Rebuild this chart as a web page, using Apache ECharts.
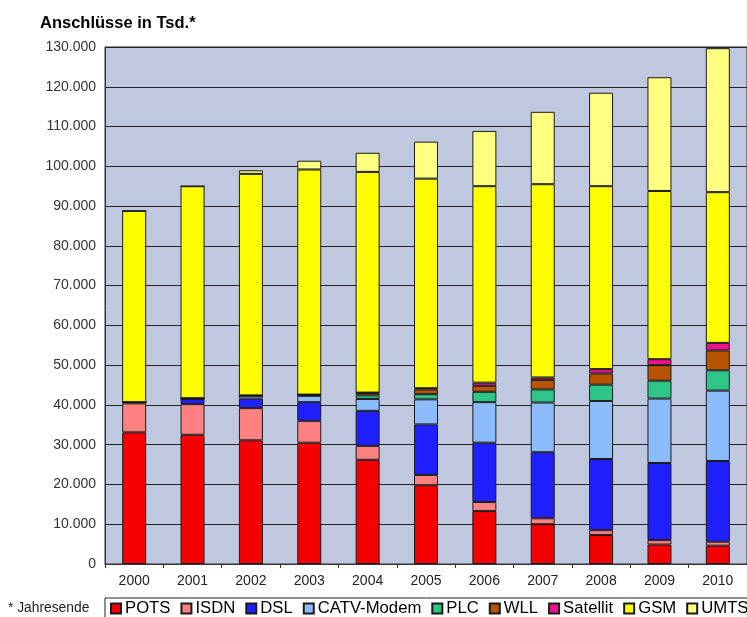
<!DOCTYPE html>
<html>
<head>
<meta charset="utf-8">
<script src="https://cdn.jsdelivr.net/npm/echarts@6/dist/echarts.min.js"></script>
<style>
html,body{margin:0;padding:0;background:#fff;}
#c{width:747px;height:617px;}
</style>
</head>
<body>
<div id="c"></div>
<script>
// Values in thousands (Tsd.)
var years = ['2000','2001','2002','2003','2004','2005','2006','2007','2008','2009','2010'];
var pots     = [33100, 32500, 31100, 30500, 26200, 19800, 13300, 10000, 7300, 4900, 4600];
var isdn     = [7300, 7700, 8100, 5500, 3500, 2600, 2300, 1500, 1200, 1100, 1000];
var dsl      = [300, 1300, 2400, 4700, 8800, 12700, 14900, 16600, 17900, 19400, 20300];
var catv     = [0, 100, 700, 1600, 3000, 6300, 10200, 12500, 14600, 16200, 17700];
var plc      = [0, 0, 0, 100, 900, 1300, 2600, 3300, 4100, 4500, 5100];
var wll      = [0, 100, 100, 200, 600, 1200, 1500, 2400, 2800, 3900, 5000];
var satellit = [0, 0, 0, 0, 100, 300, 800, 600, 1100, 1500, 1900];
var gsm      = [48100, 53300, 55700, 56600, 55500, 52700, 49400, 48600, 46000, 42300, 37900];
var umts     = [0, 0, 900, 2200, 4800, 9300, 13900, 18200, 23500, 28600, 36200];

var seriesNames = ['POTS','ISDN','DSL','CATV-Modem','PLC','WLL','Satellit','GSM','UMTS'];
var seriesData = [pots, isdn, dsl, catv, plc, wll, satellit, gsm, umts];
var seriesColors = ['#f50000','#ff8080','#2020ff','#8cbcff','#2ec688','#b85400','#ee1188','#ffff00','#ffff80'];

function fmt(v){ return String(v).replace(/\B(?=(\d{3})+(?!\d))/g,'.'); }

var chart = echarts.init(document.getElementById('c'), null, {renderer:'canvas'});
var series = seriesNames.map(function(n,i){
  return {
    name: n, type: 'bar', stack: 'total', barWidth: 24,
    data: seriesData[i],
    itemStyle: {color: seriesColors[i], borderColor: '#1a1a1a', borderWidth: 1},
    emphasis: {disabled: true}
  };
});
chart.setOption({
  animation: false,
  textStyle: {fontFamily: 'Liberation Sans, Arial, sans-serif'},
  title: {
    text: 'Anschlüsse in Tsd.*', left: 35, top: 10,
    textStyle: {fontSize: 16.5, fontWeight: 'bold', color: '#000', fontFamily: 'Liberation Sans, Arial, sans-serif'}
  },
  grid: {
    left: 105, right: -10, top: 47, bottom: 53,
    show: true, backgroundColor: '#c0c8e0', borderColor: '#333', borderWidth: 1
  },
  xAxis: {
    type: 'category', data: years,
    axisLine: {lineStyle: {color: '#333', width: 1}},
    axisTick: {show: true, length: 4, lineStyle: {color: '#333'}},
    axisLabel: {fontSize: 14, color: '#222', margin: 10}
  },
  yAxis: {
    type: 'value', min: 0, max: 130000, interval: 10000,
    axisLine: {show: true, lineStyle: {color: '#333'}},
    axisTick: {show: false},
    splitLine: {lineStyle: {color: '#222', width: 1}},
    axisLabel: {fontSize: 14, color: '#333', margin: 9, formatter: fmt}
  },
  legend: {
    left: 110, top: 600, width: 900, itemWidth: 10, itemHeight: 10, itemGap: 10,
    icon: 'rect', padding: 0,
    textStyle: {fontSize: 16.7, color: '#000', padding: [0,0,0,-1]},
    data: seriesNames
  },
  graphic: [
    {type: 'rect', shape: {x: 105, y: 598, width: 700, height: 40},
     style: {fill: 'none', stroke: '#222', lineWidth: 1}, silent: true},
    {type: 'text', left: 8, top: 601,
     style: {text: '* Jahresende', fontSize: 13.8, fill: '#222', fontFamily: 'Liberation Sans, Arial, sans-serif'}}
  ],
  series: series
});
</script>
</body>
</html>
